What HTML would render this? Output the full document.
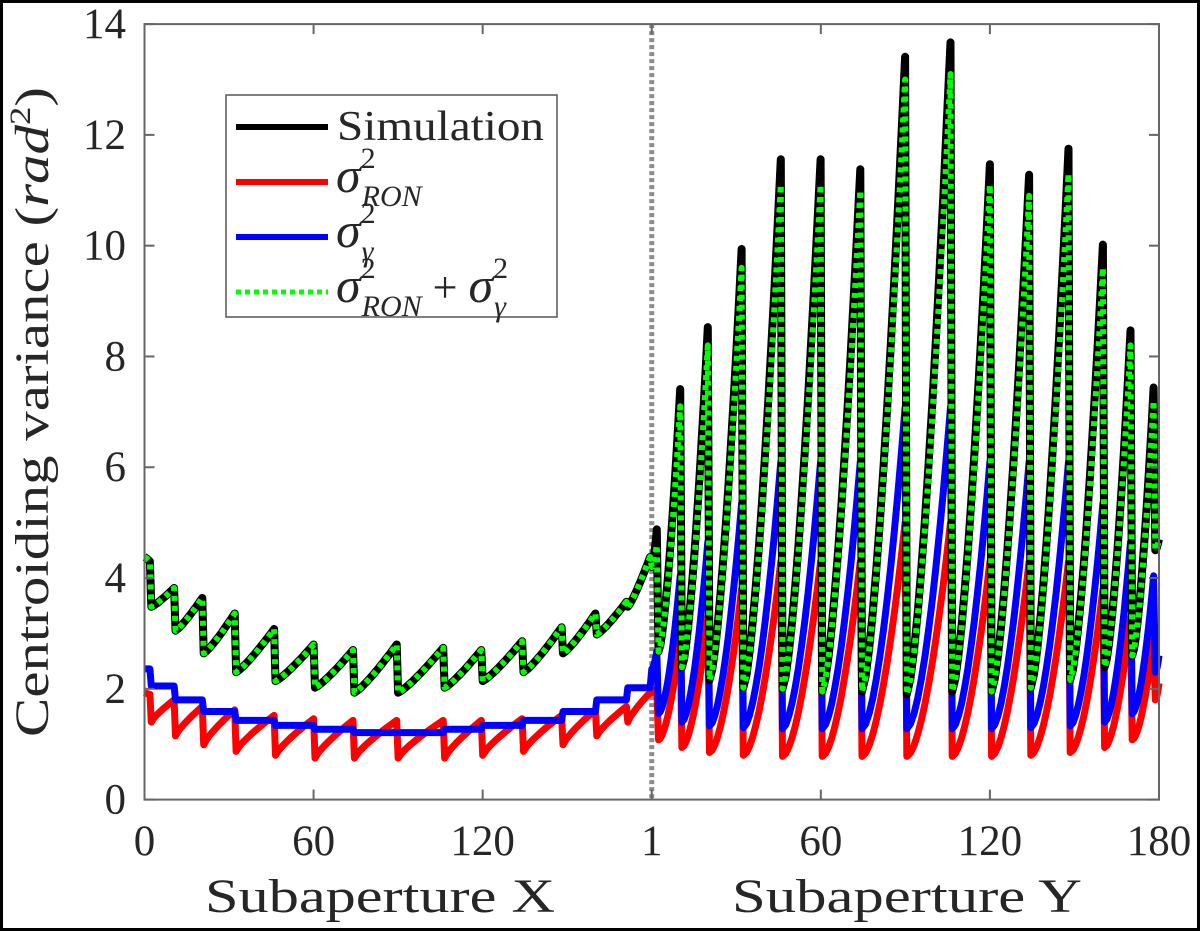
<!DOCTYPE html>
<html><head><meta charset="utf-8"><style>
html,body{margin:0;padding:0;background:#fff;}
svg{display:block;}
text{font-family:"Liberation Serif",serif;fill:#262626;}
</style></head><body>
<svg id="chart" width="1200" height="931" viewBox="0 0 1200 931">
<rect x="1.5" y="1.5" width="1197" height="928" fill="#fff" stroke="#000" stroke-width="3"/>
<g id="plot"></g>
<g id="axes"></g>
<text x="380" y="912" font-size="48" text-anchor="middle" textLength="350" lengthAdjust="spacingAndGlyphs">Subaperture X</text>
<text x="907" y="912" font-size="48" text-anchor="middle" textLength="350" lengthAdjust="spacingAndGlyphs">Subaperture Y</text>
<text transform="translate(48,412) rotate(-90)" font-size="48" text-anchor="middle" textLength="650" lengthAdjust="spacingAndGlyphs">Centroiding variance (<tspan font-style="italic">rad</tspan><tspan font-size="30" dy="-18">2</tspan><tspan dy="18">)</tspan></text>
<g id="legend">
<rect x="226" y="95" width="331" height="222" fill="#fff" stroke="#555" stroke-width="1.5"/>
<line x1="236" y1="127" x2="328" y2="127" stroke="#000" stroke-width="6"/>
<text x="337" y="140" font-size="42" textLength="207" lengthAdjust="spacingAndGlyphs">Simulation</text>
<line x1="236" y1="182" x2="328" y2="182" stroke="#f00" stroke-width="6"/>
<text x="336" y="192" font-size="50" font-style="italic">σ<tspan font-size="30" dy="-24" font-style="normal">2</tspan><tspan font-size="30" dx="-14" dy="38">RON</tspan></text>
<line x1="236" y1="237" x2="328" y2="237" stroke="#00f" stroke-width="6"/>
<text x="336" y="247" font-size="50" font-style="italic">σ<tspan font-size="30" dy="-24" font-style="normal">2</tspan><tspan font-size="30" dx="-14" dy="38">γ</tspan></text>
<line x1="236" y1="292" x2="328" y2="292" stroke="#0f0" stroke-width="5" stroke-dasharray="5,4"/>
<text x="336" y="302" font-size="50" font-style="italic">σ<tspan font-size="30" dy="-24" font-style="normal">2</tspan><tspan font-size="30" dx="-14" dy="38">RON</tspan><tspan font-style="normal" font-size="44" dy="-14"> + </tspan>σ<tspan font-size="30" dy="-24" font-style="normal">2</tspan><tspan font-size="30" dx="-14" dy="38">γ</tspan></text>
</g>
</svg>
<script>
// ---- data ----
const leftRowEnd=[1.9,10.5,20.5,32,46,60,74,89.5,106,119.5,134,148,160,171,179.4];
const leftSimLow=[4.38,3.48,3.05,2.64,2.30,2.14,2.02,1.93,1.93,2.02,2.14,2.30,2.64,2.98,3.48];
const leftSimHigh=[4.30,3.82,3.64,3.36,3.08,2.80,2.70,2.80,2.74,2.70,2.86,3.11,3.36,3.57,4.38];
const leftRonLow=[1.93,1.40,1.15,0.99,0.87,0.80,0.75,0.75,0.75,0.75,0.80,0.87,0.99,1.15,1.40];
const leftRonHigh=[1.90,1.80,1.68,1.62,1.52,1.46,1.43,1.43,1.43,1.43,1.46,1.52,1.62,1.68,1.93];
const leftGamma=[2.36,2.05,1.80,1.59,1.43,1.34,1.27,1.21,1.21,1.27,1.34,1.43,1.59,1.80,2.02];
const rightPeakIdx=[181.8,190.1,199.9,211.9,225.8,239.9,254,269.9,286,300,313.9,327.9,340.1,349.9,358.1,360];
const rightSimLow=[4.2,2.67,2.39,2.16,2.02,2.0,1.95,1.95,1.9,1.95,1.95,2.02,2.16,2.39,2.6,4.5];
const rightSimHigh=[4.88,7.41,8.53,9.94,11.56,11.56,11.38,13.41,13.67,11.47,11.28,11.75,10.02,8.47,7.44,4.7];
const rightSumHigh=[4.6,7.1,8.2,9.6,11.1,11.1,11.0,13.0,13.1,11.1,10.9,11.3,9.6,8.2,7.2,4.7];
const rightGammaLow=[2.36,1.55,1.40,1.33,1.30,1.28,1.28,1.28,1.28,1.28,1.28,1.30,1.33,1.40,1.55,2.3];
const rightGammaHigh=[2.68,4.04,4.65,5.35,6.1,6.1,6.1,7.08,7.08,6.1,6.1,6.1,5.35,4.65,4.04,2.6];
const rightRonLow=[1.93,1.08,0.94,0.85,0.80,0.78,0.78,0.78,0.78,0.78,0.78,0.80,0.85,0.94,1.08,1.8];
const rightRonHigh=[2.0,2.9,3.3,3.8,4.3,4.3,4.3,5.0,5.0,4.3,4.3,4.3,3.8,3.3,2.9,2.1];
const yTicks=[0,2,4,6,8,10,12,14];
const xTickIdx=[0,60,120,180,240,300,360];
const xTickLabels=["0","60","120","1","60","120","180"];

// ---- scales ----
const X0=144.5,X1=1159,Y0=799.6,Y1=24.1;
function sx(i){return X0+(X1-X0)*i/360;}
function sy(v){return Y0-(Y0-Y1)*v/14;}
const NS="http://www.w3.org/2000/svg";
const plot=document.getElementById('plot');
const axes=document.getElementById('axes');

function seg(pts,a,b,lo,hi,p){
  const n=12;
  for(let k=0;k<=n;k++){const t=k/n;pts.push([a+(b-a)*t,lo+(hi-lo)*Math.pow(t,p)]);}
}
function buildLeft(low,high,p){
  const pts=[];let s=0;
  for(let r=0;r<leftRowEnd.length;r++){seg(pts,s,leftRowEnd[r],low[r],high[r],p);s=leftRowEnd[r]+0.5;}
  return pts;
}
function buildRight(low,high,p){
  const pts=[];let s=180;
  for(let c=0;c<rightPeakIdx.length;c++){seg(pts,s,rightPeakIdx[c],low[c],high[c],p);s=rightPeakIdx[c]+0.6;}
  return pts;
}
function pathOf(pts){return pts.map((q,i)=>(i?'L':'M')+sx(q[0]).toFixed(1)+','+sy(q[1]).toFixed(1)).join('');}
function addPath(d,color,w,dash,name){
  const el=document.createElementNS(NS,'path');
  el.setAttribute('d',d);el.setAttribute('fill','none');el.setAttribute('stroke',color);
  el.setAttribute('stroke-width',w);el.setAttribute('stroke-linejoin','round');
  if(dash)el.setAttribute('stroke-dasharray',dash);
  
  
  plot.appendChild(el);
}
const ron=buildLeft(leftRonLow,leftRonHigh,0.8).concat(buildRight(rightRonLow,rightRonHigh,1.7));
const gam=buildLeft(leftGamma,leftGamma,1).concat(buildRight(rightGammaLow,rightGammaHigh,1.7));
const sim=buildLeft(leftSimLow,leftSimHigh,1.2).concat(buildRight(rightSimLow,rightSimHigh,1.5));
const sum=buildLeft(leftSimLow,leftSimHigh,1.2).concat(buildRight(rightSimLow,rightSumHigh,1.5));
// divider
const dv=document.createElementNS(NS,'line');
dv.setAttribute('x1',sx(180));dv.setAttribute('x2',sx(180));dv.setAttribute('y1',Y1);dv.setAttribute('y2',Y0);
dv.setAttribute('stroke','#8c8c8c');dv.setAttribute('stroke-width','5');dv.setAttribute('stroke-dasharray','4,3');


plot.appendChild(dv);
addPath(pathOf(ron),'#ff0000',7,null,'series-ron');
addPath(pathOf(gam),'#0000ff',7,null,'series-gamma');
addPath(pathOf(sim),'#000000',8,null,'series-simulation');
addPath(pathOf(sum),'#00ff00',6,'5,5','series-ron-plus-gamma');

// axes box
const box=document.createElementNS(NS,'rect');
box.setAttribute('x',X0);box.setAttribute('y',Y1);box.setAttribute('width',X1-X0);box.setAttribute('height',Y0-Y1);
box.setAttribute('fill','none');box.setAttribute('stroke','#666');box.setAttribute('stroke-width','2');


axes.appendChild(box);
function tick(x1,y1,x2,y2){
  const l=document.createElementNS(NS,'line');
  l.setAttribute('x1',x1);l.setAttribute('y1',y1);l.setAttribute('x2',x2);l.setAttribute('y2',y2);
  l.setAttribute('stroke','#666');l.setAttribute('stroke-width','2');
  
  
  axes.appendChild(l);
}
yTicks.forEach(v=>{
  const y=sy(v);
  tick(X0,y,X0+10,y);tick(X1,y,X1-10,y);
  const t=document.createElementNS(NS,'text');
  t.setAttribute('x',126);t.setAttribute('y',y+14);t.setAttribute('font-size','43');t.setAttribute('text-anchor','end');
  t.textContent=String(v);
  
  
  axes.appendChild(t);
});
xTickIdx.forEach((i,k)=>{
  const x=sx(i);
  tick(x,Y0,x,Y0-10);tick(x,Y1,x,Y1+10);
  const t=document.createElementNS(NS,'text');
  t.setAttribute('x',x);t.setAttribute('y',855);t.setAttribute('font-size','43');t.setAttribute('text-anchor','middle');
  t.textContent=xTickLabels[k];
  
  
  axes.appendChild(t);
});
</script>
</body></html>
